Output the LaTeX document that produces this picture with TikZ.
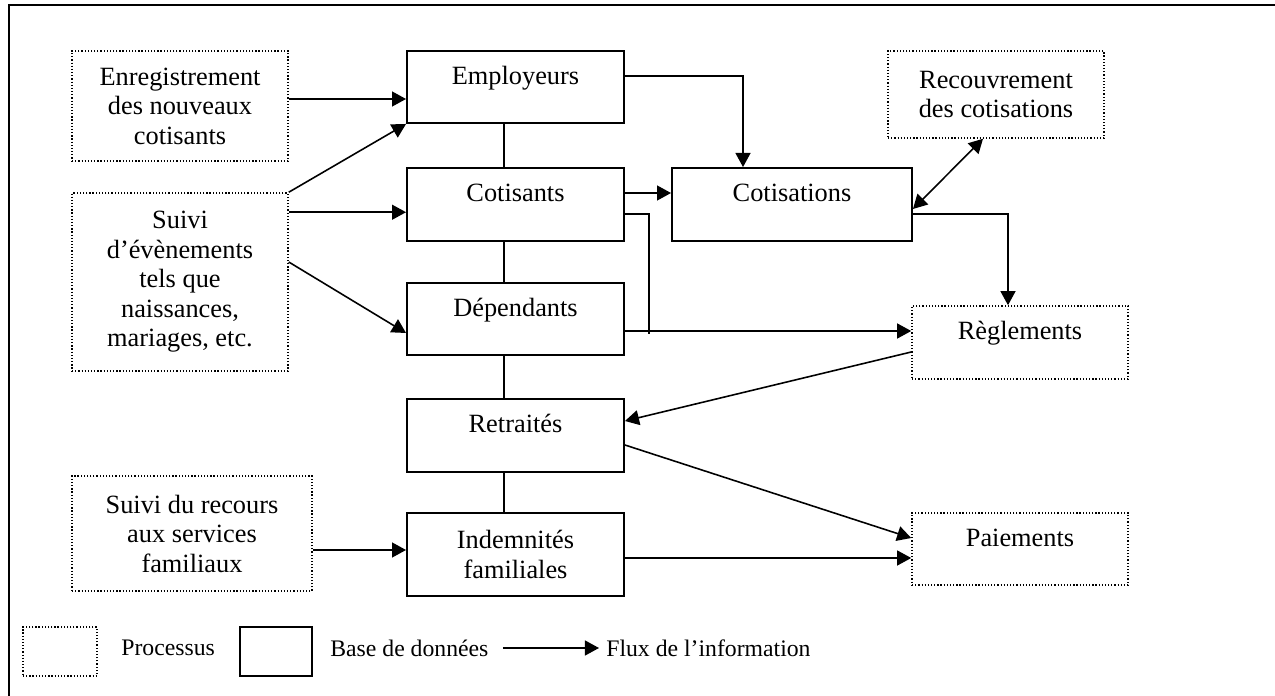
\documentclass[tikz,border=0pt]{standalone}
\usepackage{fontspec}
\setmainfont{Liberation Serif}
\usetikzlibrary{arrows.meta,positioning}

\begin{document}
\begin{tikzpicture}[x=0.02cm, y=-0.02cm, >={Triangle[length=8pt,width=8.5pt]},
  every node/.style={font=\fontsize{15}{16.8}\selectfont, align=center, inner sep=0pt},
  proc/.style={draw, line width=0.9pt, dash pattern=on 0.7pt off 1.1pt},
  base/.style={draw, line width=1.1pt},
  oneline/.style={text height=10.5pt, text depth=13.5pt},
  flow/.style={->, line width=0.9pt},
  link/.style={line width=0.9pt},
  legend/.style={font=\fontsize{13.5}{15}\selectfont}]
\useasboundingbox (0,0) rectangle (1275,696);
\draw[line width=1.5pt] (9,696) -- (9,5) -- (1275,5);

\node[proc, minimum width=4.32cm, minimum height=2.2cm] (enreg) at (180,106) {Enregistrement\\des nouveaux\\cotisants};
\node[proc, minimum width=4.32cm, minimum height=3.56cm] (suivi) at (180,282) {Suivi\\d’évènements\\tels que\\naissances,\\mariages, etc.};
\node[proc, minimum width=4.8cm, minimum height=2.3cm] (recours) at (192,533.5) {Suivi du recours\\aux services\\familiaux};
\node[base, oneline, minimum width=4.34cm, minimum height=1.44cm] (emp) at (515.5,87) {Employeurs};
\node[base, oneline, minimum width=4.34cm, minimum height=1.46cm] (cot) at (515.5,204.5) {Cotisants};
\node[base, oneline, minimum width=4.34cm, minimum height=1.44cm] (dep) at (515.5,319) {Dépendants};
\node[base, oneline, minimum width=4.34cm, minimum height=1.46cm] (ret) at (515.5,435.5) {Retraités};
\node[base, minimum width=4.34cm, minimum height=1.66cm] (ind) at (515.5,554.5) {Indemnités\\familiales};
\node[base, oneline, minimum width=4.8cm, minimum height=1.46cm] (cts) at (792,204.5) {Cotisations};
\node[proc, minimum width=4.32cm, minimum height=1.74cm] (recouv) at (996,94.5) {Recouvrement\\des cotisations};
\node[proc, oneline, minimum width=4.32cm, minimum height=1.46cm] (regl) at (1020,342.5) {Règlements};
\node[proc, oneline, minimum width=4.32cm, minimum height=1.44cm] (paie) at (1020,549) {Paiements};

\node[proc, minimum width=1.48cm, minimum height=0.98cm] (lproc) at (60,651.5) {};
\node[legend, anchor=west] (lproctxt) at (121,648) {Processus};
\node[base, minimum width=1.44cm, minimum height=0.98cm] (lbase) at (276,651.5) {};
\node[legend, anchor=west] (lbasetxt) at (330,648) {Base de données};
\node[legend, anchor=west] (lflowtxt) at (606,648) {Flux de l’information};
\draw[flow] ([xshift=0.28cm]lbasetxt.east) -- ([xshift=-0.14cm]lflowtxt.west);

\foreach \a/\b in {emp/cot, cot/dep, dep/ret, ret/ind}
  \draw[link] ([xshift=-0.23cm]\a.south) -- ([xshift=-0.23cm]\b.north);

\draw[flow] ([yshift=0.14cm]enreg.east) coordinate (e1) -- (e1 -| emp.west);
\draw[flow] (suivi.north east) -- (emp.south west);
\draw[flow] ([yshift=-0.4cm]suivi.north east) coordinate (s1) -- (s1 -| cot.west);
\draw[flow] ([yshift=0.4cm]suivi.east) -- ([yshift=-0.28cm]dep.west);
\draw[flow] ([yshift=-0.33cm]recours.east) coordinate (r1) -- (r1 -| ind.west);
\draw[flow] ([yshift=0.22cm]emp.east) -| ([xshift=-0.98cm]cts.north);
\draw[flow] ([yshift=0.23cm]cot.east) coordinate (c1) -- (c1 -| cts.west);
\draw[link] ([yshift=-0.19cm]cot.east) -| ([xshift=0.48cm,yshift=-0.3cm]dep.east);
\draw[flow] ([yshift=-0.24cm]dep.east) coordinate (d1) -- (d1 -| regl.west);
\draw[flow] ([yshift=-0.19cm]cts.east) -| ([xshift=-0.24cm]regl.north);
\draw[<->, line width=0.9pt] ([yshift=-0.09cm]cts.east) -- ([xshift=-0.26cm]recouv.south);
\draw[flow] ([yshift=-0.19cm]regl.west) -- ([yshift=0.29cm]ret.east);
\draw[flow] ([yshift=-0.19cm]ret.east) -- ([yshift=0.22cm]paie.west);
\coordinate (p1) at ([yshift=-0.18cm]paie.west);
\draw[flow] (p1 -| ind.east) -- (p1);
\end{tikzpicture}
\end{document}
